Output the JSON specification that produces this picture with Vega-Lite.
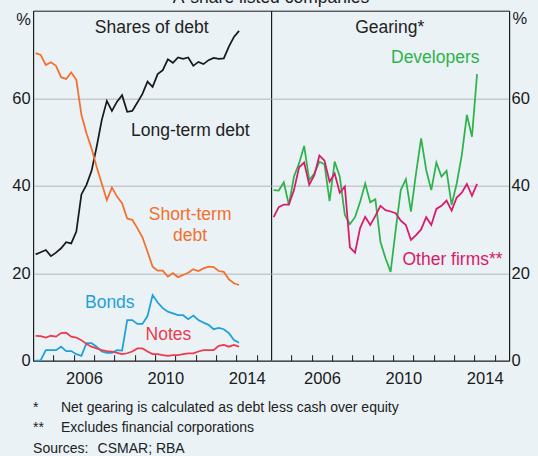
{
  "$schema": "https://vega.github.io/schema/vega-lite/v6.json",
  "background": "#eaf2f6",
  "autosize": "none",
  "padding": {"left": 33.1, "top": 10.7, "right": 504.9, "bottom": 445.3},
  "bounds": "flush",
  "spacing": 0,
  "config": {
    "font": "Liberation Sans",
    "view": {"stroke": "#1a1a1a", "strokeWidth": 1},
    "axis": {"labelFont": "Liberation Sans", "titleFont": "Liberation Sans", "labelColor": "#1a1a1a", "titleColor": "#1a1a1a", "domainColor": "#1a1a1a", "tickColor": "#1a1a1a", "labelFontSize": 16.5, "titleFontSize": 16.5, "titleFontWeight": "normal"}
  },
  "datasets": {
    "debt": [
      {"t":2004.125,"long":24.3,"short":70.3,"bonds":0.0,"notes":5.7},
      {"t":2004.375,"long":24.8,"short":69.9,"bonds":0.1,"notes":5.6},
      {"t":2004.625,"long":25.3,"short":67.6,"bonds":2.4,"notes":5.3},
      {"t":2004.875,"long":23.9,"short":68.2,"bonds":2.4,"notes":5.7},
      {"t":2005.125,"long":24.7,"short":67.4,"bonds":2.4,"notes":5.5},
      {"t":2005.375,"long":25.7,"short":64.8,"bonds":3.2,"notes":6.3},
      {"t":2005.625,"long":27.1,"short":64.4,"bonds":2.2,"notes":6.4},
      {"t":2005.875,"long":26.8,"short":65.9,"bonds":2.2,"notes":5.5},
      {"t":2006.125,"long":29.5,"short":64.2,"bonds":1.5,"notes":5.3},
      {"t":2006.375,"long":38.0,"short":56.2,"bonds":1.1,"notes":4.7},
      {"t":2006.625,"long":40.2,"short":52.0,"bonds":4.0,"notes":3.8},
      {"t":2006.875,"long":43.4,"short":48.5,"bonds":4.0,"notes":3.2},
      {"t":2007.125,"long":48.9,"short":44.3,"bonds":3.2,"notes":2.8},
      {"t":2007.375,"long":55.0,"short":40.5,"bonds":2.1,"notes":2.4},
      {"t":2007.625,"long":59.4,"short":36.7,"bonds":1.8,"notes":2.2},
      {"t":2007.875,"long":57.1,"short":39.6,"bonds":1.8,"notes":2.1},
      {"t":2008.125,"long":59.2,"short":37.5,"bonds":2.4,"notes":1.8},
      {"t":2008.375,"long":60.7,"short":36.0,"bonds":2.3,"notes":1.5},
      {"t":2008.625,"long":56.9,"short":32.5,"bonds":9.3,"notes":1.7},
      {"t":2008.875,"long":57.1,"short":32.2,"bonds":9.3,"notes":2.1},
      {"t":2009.125,"long":59.0,"short":30.3,"bonds":8.4,"notes":2.8},
      {"t":2009.375,"long":61.0,"short":28.2,"bonds":8.4,"notes":2.8},
      {"t":2009.625,"long":63.8,"short":24.9,"bonds":10.2,"notes":2.1},
      {"t":2009.875,"long":62.6,"short":21.5,"bonds":15.0,"notes":1.5},
      {"t":2010.125,"long":65.5,"short":20.6,"bonds":13.3,"notes":1.5},
      {"t":2010.375,"long":66.4,"short":20.6,"bonds":12.0,"notes":1.3},
      {"t":2010.625,"long":68.9,"short":19.2,"bonds":11.2,"notes":1.1},
      {"t":2010.875,"long":68.1,"short":20.0,"bonds":10.8,"notes":1.3},
      {"t":2011.125,"long":69.3,"short":19.1,"bonds":10.4,"notes":1.3},
      {"t":2011.375,"long":69.0,"short":19.6,"bonds":10.4,"notes":1.5},
      {"t":2011.625,"long":69.3,"short":20.1,"bonds":9.5,"notes":1.7},
      {"t":2011.875,"long":67.4,"short":20.9,"bonds":10.3,"notes":1.7},
      {"t":2012.125,"long":68.3,"short":20.5,"bonds":9.3,"notes":2.1},
      {"t":2012.375,"long":67.8,"short":21.1,"bonds":8.7,"notes":2.4},
      {"t":2012.625,"long":68.7,"short":21.5,"bonds":8.2,"notes":2.4},
      {"t":2012.875,"long":69.2,"short":21.4,"bonds":7.2,"notes":2.4},
      {"t":2013.125,"long":69.0,"short":20.5,"bonds":7.5,"notes":3.4},
      {"t":2013.375,"long":69.1,"short":20.3,"bonds":7.2,"notes":3.6},
      {"t":2013.625,"long":71.8,"short":18.6,"bonds":6.3,"notes":3.2},
      {"t":2013.875,"long":74.0,"short":17.7,"bonds":4.7,"notes":3.6},
      {"t":2014.125,"long":75.4,"short":17.3,"bonds":4.1,"notes":3.2}
    ],
    "gearing": [
      {"t":2004.125,"dev":39.0,"other":32.8},
      {"t":2004.375,"dev":38.9,"other":35.1},
      {"t":2004.625,"dev":40.8,"other":35.7},
      {"t":2004.875,"dev":35.6,"other":35.7},
      {"t":2005.125,"dev":42.1,"other":39.0},
      {"t":2005.375,"dev":45.1,"other":44.2},
      {"t":2005.625,"dev":49.1,"other":45.3},
      {"t":2005.875,"dev":41.3,"other":40.2},
      {"t":2006.125,"dev":42.8,"other":42.4},
      {"t":2006.375,"dev":45.5,"other":46.9},
      {"t":2006.625,"dev":44.9,"other":45.7},
      {"t":2006.875,"dev":36.5,"other":40.9},
      {"t":2007.125,"dev":45.5,"other":42.8},
      {"t":2007.375,"dev":42.1,"other":38.4},
      {"t":2007.625,"dev":33.3,"other":39.8},
      {"t":2007.875,"dev":31.2,"other":25.9},
      {"t":2008.125,"dev":32.8,"other":24.7},
      {"t":2008.375,"dev":36.3,"other":30.3},
      {"t":2008.625,"dev":40.5,"other":32.9},
      {"t":2008.875,"dev":36.2,"other":31.0},
      {"t":2009.125,"dev":36.9,"other":33.1},
      {"t":2009.375,"dev":27.2,"other":35.4},
      {"t":2009.625,"dev":23.4,"other":34.4},
      {"t":2009.875,"dev":20.3,"other":34.1},
      {"t":2010.125,"dev":29.9,"other":33.7},
      {"t":2010.375,"dev":39.0,"other":32.0},
      {"t":2010.625,"dev":41.5,"other":31.0},
      {"t":2010.875,"dev":34.1,"other":27.6},
      {"t":2011.125,"dev":42.8,"other":28.7},
      {"t":2011.375,"dev":50.8,"other":30.0},
      {"t":2011.625,"dev":43.6,"other":32.8},
      {"t":2011.875,"dev":39.0,"other":31.0},
      {"t":2012.125,"dev":45.3,"other":34.7},
      {"t":2012.375,"dev":42.1,"other":35.4},
      {"t":2012.625,"dev":43.4,"other":36.6},
      {"t":2012.875,"dev":35.6,"other":34.3},
      {"t":2013.125,"dev":40.5,"other":37.3},
      {"t":2013.375,"dev":47.0,"other":38.4},
      {"t":2013.625,"dev":56.2,"other":40.4},
      {"t":2013.875,"dev":51.2,"other":37.7},
      {"t":2014.125,"dev":65.5,"other":40.4}
    ],
    "labelsL": [
      {"t":2009.83,"value":76.05,"text":"Shares of debt","series":"label"},
      {"t":2011.73,"value":52.4,"text":"Long-term debt","series":"label"},
      {"t":2011.72,"value":33.36,"text":"Short-term","series":"short"},
      {"t":2011.72,"value":28.56,"text":"debt","series":"short"},
      {"t":2007.77,"value":13.19,"text":"Bonds","series":"bonds"},
      {"t":2010.65,"value":5.78,"text":"Notes","series":"notes"},
      {"t":2015.7,"value":82.96,"text":"A-share listed companies","series":"label"}
    ],
    "labelsR": [
      {"t":2009.83,"value":76.05,"text":"Gearing*","series":"label"},
      {"t":2012.07,"value":69.17,"text":"Developers","series":"dev"},
      {"t":2012.92,"value":23.07,"text":"Other firms**","series":"other"}
    ],
    "footnotes": [
      {"t":2004.0,"value":-10.7,"text":"*","series":"label"},
      {"t":2005.37,"value":-10.7,"text":"Net gearing is calculated as debt less cash over equity","series":"label"},
      {"t":2004.0,"value":-15.4,"text":"**","series":"label"},
      {"t":2005.37,"value":-15.4,"text":"Excludes financial corporations","series":"label"},
      {"t":2004.0,"value":-20.2,"text":"Sources:","series":"label"},
      {"t":2007.17,"value":-20.2,"text":"CSMAR; RBA","series":"label"}
    ]
  },
  "hconcat": [
    {
      "width": 238,
      "height": 350,
      "encoding": {
        "x": {"field": "t", "type": "quantitative",
          "scale": {"domain": [2004, 2015.7], "nice": false, "zero": false},
          "axis": {"title": null, "grid": false, "values": [2005,2006,2007,2008,2009,2010,2011,2012,2013,2014,2015], "format": "d", "labelExpr": "datum.value % 4 == 2 ? datum.value : ''", "tickSize": -6, "labelPadding": 15.8, "labelOffset": 10.2, "labelBaseline": "top", "labelFlush": false, "labelOverlap": false, "labelBound": false}},
        "y": {"field": "value", "type": "quantitative",
          "scale": {"domain": [0, 80], "nice": false, "zero": true},
          "axis": {"orient": "left", "values": [0,20,40,60], "ticks": false, "tickSize": 0, "labelPadding": 3, "grid": true, "gridColor": "#c4c9cc", "gridWidth": 1.5, "title": "%", "titleAngle": 0, "titleX": -10, "titleY": 8.3, "titleAlign": "center", "titleBaseline": "middle"}},
        "color": {"field": "series", "type": "nominal", "legend": null,
          "scale": {"domain": ["long","short","bonds","notes","dev","other","label"], "range": ["#1a1a1a","#f36f2c","#1ea0dc","#ec3a4c","#2db34b","#d9196a","#222222"]}}
      },
      "layer": [
        {
          "data": {"name": "debt"},
          "transform": [{"fold": ["long", "short", "bonds", "notes"], "as": ["series", "value"]}],
          "mark": {"type": "line", "strokeWidth": 1.75}
        },
        {
          "data": {"name": "labelsL"},
          "mark": {"type": "text", "fontSize": 17.5, "align": "center", "baseline": "middle"},
          "encoding": {"text": {"field": "text"}}
        },
        {
          "data": {"name": "footnotes"},
          "mark": {"type": "text", "fontSize": 14, "align": "left", "baseline": "middle"},
          "encoding": {"text": {"field": "text"}}
        }
      ]
    },
    {
      "width": 238,
      "height": 350,
      "encoding": {
        "x": {"field": "t", "type": "quantitative",
          "scale": {"domain": [2004, 2015.7], "nice": false, "zero": false},
          "axis": {"title": null, "grid": false, "values": [2005,2006,2007,2008,2009,2010,2011,2012,2013,2014,2015], "format": "d", "labelExpr": "datum.value % 4 == 2 ? datum.value : ''", "tickSize": -6, "labelPadding": 15.8, "labelOffset": 10.2, "labelBaseline": "top", "labelFlush": false, "labelOverlap": false, "labelBound": false}},
        "y": {"field": "value", "type": "quantitative",
          "scale": {"domain": [0, 80], "nice": false, "zero": true},
          "axis": {"orient": "right", "values": [0,20,40,60], "ticks": false, "tickSize": 0, "labelPadding": 2, "grid": true, "gridColor": "#c4c9cc", "gridWidth": 1.5, "title": "%", "titleAngle": 0, "titleX": 10.2, "titleY": 8, "titleAlign": "center", "titleBaseline": "middle"}},
        "color": {"field": "series", "type": "nominal", "legend": null,
          "scale": {"domain": ["long","short","bonds","notes","dev","other","label"], "range": ["#1a1a1a","#f36f2c","#1ea0dc","#ec3a4c","#2db34b","#d9196a","#222222"]}}
      },
      "layer": [
        {
          "data": {"name": "gearing"},
          "transform": [{"fold": ["dev", "other"], "as": ["series", "value"]}],
          "mark": {"type": "line", "strokeWidth": 1.75}
        },
        {
          "data": {"name": "labelsR"},
          "mark": {"type": "text", "fontSize": 17.5, "align": "center", "baseline": "middle"},
          "encoding": {"text": {"field": "text"}}
        }
      ]
    }
  ]
}
